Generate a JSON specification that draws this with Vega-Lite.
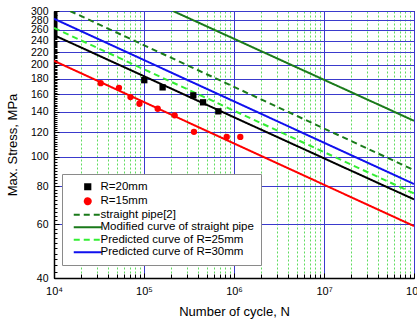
{
  "$schema": "https://vega.github.io/schema/vega-lite/v6.json",
  "width": 360,
  "height": 267,
  "autosize": "none",
  "padding": {"left": 54, "top": 11, "right": 3, "bottom": 43},
  "background": "white",
  "config": {
    "font": "Liberation Sans",
    "view": {"stroke": "black", "strokeWidth": 1}
  },
  "data": {
    "values": [
      {"series": "R=20mm", "kind": "pt", "N": 100700, "S": 178},
      {"series": "R=20mm", "kind": "pt", "N": 161000, "S": 168.6},
      {"series": "R=20mm", "kind": "pt", "N": 353000, "S": 158.7},
      {"series": "R=20mm", "kind": "pt", "N": 453000, "S": 150.6},
      {"series": "R=20mm", "kind": "pt", "N": 670000, "S": 140.7},
      {"series": "R=15mm", "kind": "pt", "N": 33000, "S": 174},
      {"series": "R=15mm", "kind": "pt", "N": 52700, "S": 168},
      {"series": "R=15mm", "kind": "pt", "N": 70800, "S": 156.7},
      {"series": "R=15mm", "kind": "pt", "N": 89000, "S": 149},
      {"series": "R=15mm", "kind": "pt", "N": 142000, "S": 143.5},
      {"series": "R=15mm", "kind": "pt", "N": 219000, "S": 136.5},
      {"series": "R=15mm", "kind": "pt", "N": 359000, "S": 120.5},
      {"series": "R=15mm", "kind": "pt", "N": 830000, "S": 116},
      {"series": "R=15mm", "kind": "pt", "N": 1175000, "S": 116},
      {"series": "R=20mm", "kind": "fit", "N": 10000, "S": 250},
      {"series": "R=20mm", "kind": "fit", "N": 100000000, "S": 72.4},
      {"series": "R=15mm", "kind": "fit", "N": 10000, "S": 206},
      {"series": "R=15mm", "kind": "fit", "N": 100000000, "S": 59.2},
      {"series": "straight pipe[2]", "kind": "fit", "N": 15070, "S": 300},
      {"series": "straight pipe[2]", "kind": "fit", "N": 100000000, "S": 90.3},
      {"series": "Modified curve of straight pipe", "kind": "fit", "N": 210000, "S": 300},
      {"series": "Modified curve of straight pipe", "kind": "fit", "N": 100000000, "S": 131},
      {"series": "Predicted curve of R=25mm", "kind": "fit", "N": 10000, "S": 264},
      {"series": "Predicted curve of R=25mm", "kind": "fit", "N": 100000000, "S": 75.7},
      {"series": "Predicted curve of R=30mm", "kind": "fit", "N": 10000, "S": 283},
      {"series": "Predicted curve of R=30mm", "kind": "fit", "N": 100000000, "S": 81.3}
    ]
  },
  "layer": [
    {
      "transform": [{"filter": "datum.kind === 'fit'"}],
      "mark": {"type": "line", "strokeWidth": 2, "clip": true},
      "encoding": {
        "x": {
          "field": "N", "type": "quantitative",
          "scale": {"type": "log", "domain": [10000, 100000000], "nice": false},
          "axis": {
            "orient": "bottom",
            "values": [20000,30000,40000,50000,60000,70000,80000,90000,200000,300000,400000,500000,600000,700000,800000,900000,2000000,3000000,4000000,5000000,6000000,7000000,8000000,9000000,20000000,30000000,40000000,50000000,60000000,70000000,80000000,90000000],
            "labels": false, "title": null, "domain": false,
            "tickSize": -4, "tickColor": "black", "tickWidth": 1,
            "grid": true, "gridColor": "#5fdc5f", "gridDash": [2, 2], "gridWidth": 1
          }
        },
        "y": {
          "field": "S", "type": "quantitative",
          "scale": {"type": "log", "domain": [40, 300], "nice": false},
          "axis": {
            "orient": "left",
            "values": [40,42,44,46,48,50,52,54,56,58,60,62,64,66,68,70,72,74,76,78,80,82,84,86,88,90,92,94,96,98,100,102,104,106,108,110,112,114,116,118,120,122,124,126,128,130,132,134,136,138,140,142,144,146,148,150,152,154,156,158,160,162,164,166,168,170,172,174,176,178,180,182,184,186,188,190,192,194,196,198,200,202,204,206,208,210,212,214,216,218,220,222,224,226,228,230,232,234,236,238,240,242,244,246,248,250,252,254,256,258,260,262,264,266,268,270,272,274,276,278,280,282,284,286,288,290,292,294,296,298,300],
            "labels": false, "title": null, "domain": false, "grid": false,
            "tickSize": -3, "tickColor": "black", "tickWidth": 1
          }
        },
        "color": {
          "field": "series", "type": "nominal",
          "scale": {
            "domain": ["R=20mm", "R=15mm", "straight pipe[2]", "Modified curve of straight pipe", "Predicted curve of R=25mm", "Predicted curve of R=30mm"],
            "range": ["#000000", "#ff0000", "#1a7a1a", "#1a7a1a", "#33ee33", "#1010ee"]
          },
          "legend": {
            "orient": "none", "legendX": 8, "legendY": 163,
            "title": null,
            "fillColor": "white", "strokeColor": "#8a8a8a",
            "padding": 7, "rowPadding": -0.5,
            "labelFont": "Liberation Sans", "labelFontSize": 11.5, "labelColor": "black",
            "symbolSize": 64, "symbolOffset": 13, "labelOffset": 7,
            "encode": {
              "symbols": {
                "update": {
                  "shape": {"signal": "datum.value === 'R=20mm' ? 'M-0.65,-0.65H0.65V0.65H-0.65Z' : datum.value === 'R=15mm' ? 'M-0.75,0A0.75,0.75,0,1,0,0.75,0A0.75,0.75,0,1,0,-0.75,0Z' : 'M-3.5,0H3.5'"},
                  "size": {"value": 64},
                  "fill": {"signal": "datum.value === 'R=20mm' ? 'black' : datum.value === 'R=15mm' ? '#ff0000' : 'transparent'"},
                  "stroke": {"signal": "datum.value === 'R=20mm' || datum.value === 'R=15mm' ? 'transparent' : scale('color', datum.value)"},
                  "strokeWidth": {"value": 2},
                  "strokeDash": {"signal": "datum.value === 'straight pipe[2]' || datum.value === 'Predicted curve of R=25mm' ? [6, 4] : [1, 0]"},
                  "opacity": {"value": 1}
                }
              }
            }
          }
        },
        "strokeDash": {
          "field": "series", "type": "nominal",
          "scale": {
            "domain": ["R=20mm", "R=15mm", "straight pipe[2]", "Modified curve of straight pipe", "Predicted curve of R=25mm", "Predicted curve of R=30mm"],
            "range": [[1, 0], [1, 0], [6, 4], [1, 0], [6, 4], [1, 0]]
          },
          "legend": null
        }
      }
    },
    {
      "transform": [{"filter": "datum.series === 'R=20mm' && datum.kind === 'pt'"}],
      "mark": {"type": "point", "shape": "square", "filled": true, "size": 40, "opacity": 1},
      "encoding": {
        "x": {
          "field": "N", "type": "quantitative",
          "axis": {
            "orient": "bottom",
            "values": [10000, 100000, 1000000, 10000000, 100000000],
            "labelExpr": "datum.value < 50000 ? '10⁴' : datum.value < 500000 ? '10⁵' : datum.value < 5000000 ? '10⁶' : datum.value < 50000000 ? '10⁷' : '10⁸'",
            "labelFont": "Liberation Sans", "labelFontSize": 11, "labelColor": "black",
            "labelPadding": 12, "labelFlush": false, "labelOverlap": false,
            "tickSize": -5, "tickColor": "black",
            "domainColor": "black", "domainWidth": 1.5,
            "grid": true, "gridColor": "#3a3acc", "gridWidth": 1,
            "title": "Number of cycle, N", "titleFont": "Liberation Sans", "titleFontSize": 13, "titleFontWeight": "normal", "titleColor": "black", "titlePadding": 9
          }
        },
        "y": {
          "field": "S", "type": "quantitative",
          "axis": {
            "orient": "left",
            "values": [40,60,80,100,120,140,160,180,200,220,240,260,280,300],
            "labelFont": "Liberation Sans", "labelFontSize": 10.5, "labelColor": "black",
            "labelPadding": 11, "labelOverlap": false, "labelFlush": false,
            "tickSize": -5, "tickColor": "black",
            "domainColor": "black", "domainWidth": 1.5,
            "grid": true, "gridColor": "#3a3acc", "gridWidth": 1,
            "title": "Max. Stress, MPa", "titleFont": "Liberation Sans", "titleFontSize": 13, "titleFontWeight": "normal", "titleColor": "black", "titlePadding": 11
          }
        },
        "color": {"field": "series", "type": "nominal"}
      }
    },
    {
      "transform": [{"filter": "datum.series === 'R=15mm' && datum.kind === 'pt'"}],
      "mark": {"type": "point", "shape": "circle", "filled": true, "size": 40, "opacity": 1},
      "encoding": {
        "x": {"field": "N", "type": "quantitative", "axis": null},
        "y": {"field": "S", "type": "quantitative", "axis": null},
        "color": {"field": "series", "type": "nominal"}
      }
    }
  ],
  "resolve": {"axis": {"x": "independent", "y": "independent"}}
}
